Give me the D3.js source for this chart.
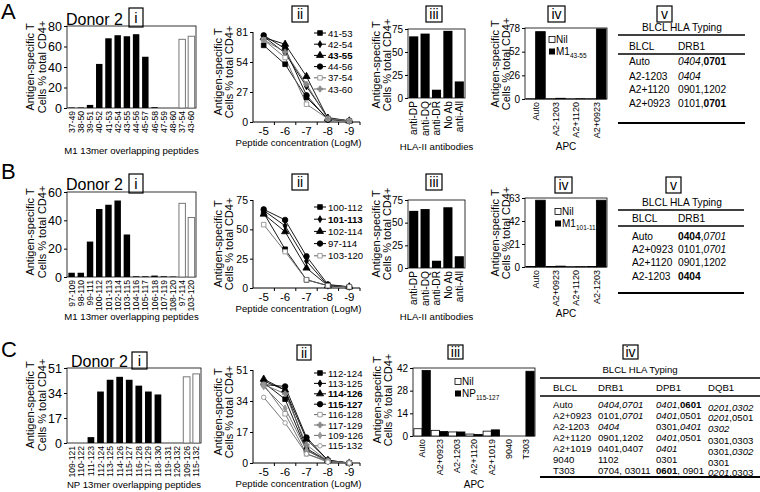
<!DOCTYPE html>
<html><head><meta charset="utf-8">
<script src="https://cdn.jsdelivr.net/npm/d3@7"></script>
<style>
body{margin:0;background:#fff}
svg{font-family:"Liberation Sans",Arial,sans-serif}
</style></head><body>
<svg id="c" width="760" height="492"></svg>
<script>
// ---------------- DATA ----------------
// Row A
const aPeptides = ["37-49","38-50","39-51","40-52","41-53","42-54","43-55","44-56","45-57","46-58","47-59","48-60","37-54","43-60"];
const aResponse = [0.5,0.5,3,43,68,71,70,72,50,0.8,0,0,67,70];
const aLongPeptides = ["37-54","43-60"];
const concentrations = [-5,-6,-7,-8,-9];
const aTitrationNames = ["41-53","42-54","43-55","44-56","37-54","43-60"];
const aT41_53 = [69,52,22,3,1];
const aT42_54 = [77,62,32,4,1];
const aT43_55 = [76,70,41,3,1];
const aT44_56 = [78,66,24,2,1];
const aT37_54 = [74,58,16,3,1];
const aT43_60 = [74,63,34,3,1];
const antibodies = ["anti-DP","anti-DQ","anti-DR","No Ab","anti-All"];
const aBlocking = [67,70,9,73,18];
const aAPC = ["Auto","A2-1203","A2+1120","A2+0923"];
const aNil = [0.3,0.3,0.2,0.3];
const aM1 = [74,0.8,0.3,77];
const aTableCols = ["BLCL","DRB1"];
const aTableRows = [["Auto","_0404_,*0701*"],["A2-1203","_0404_"],["A2+1120","0901,1202"],["A2+0923","0101,*0701*"]];

// Row B
const bPeptides = ["97-109","98-110","99-111","100-112","101-113","102-114","103-115","104-116","105-117","106-118","107-119","108-120","97-114","103-120"];
const bResponse = [3,3,25,48,51,54,30,0.5,0.5,1,0.5,0.3,52,42];
const bLongPeptides = ["97-114","103-120"];
const bTitrationNames = ["100-112","101-113","102-114","97-114","103-120"];
const bT100_112 = [64,33,7,2,1];
const bT101_113 = [66,53,23,2,1];
const bT102_114 = [63,48,17,2,1];
const bT97_114 = [67,58,27,3,1];
const bT103_120 = [54,31,7,2,1];
const bBlocking = [63,65,8,67,13];
const bAPC = ["Auto","A2+0923","A2+1120","A2-1203"];
const bNil = [0.5,0.5,0.3,0.5];
const bM1 = [61,0.8,0.3,61];
const bTableRows = [["Auto","*0404*,_0701_"],["A2+0923","0101,_0701_"],["A2+1120","0901,1202"],["A2-1203","*0404*"]];

// Row C
const cPeptides = ["109-121","110-122","111-123","112-124","113-125","114-126","115-127","116-128","117-129","118-130","119-131","120-132","109-126","115-132"];
const cResponse = [0,0,4,35,43,45,43,39,35,33,0,0,45,47];
const cLongPeptides = ["109-126","115-132"];
const cTitrationNames = ["112-124","113-125","114-126","115-127","116-128","117-129","109-126","115-132"];
const cT112_124 = [44,35,7,1,0];
const cT113_125 = [45,40,8,1,0];
const cT114_126 = [46,40,13,1.5,0];
const cT115_127 = [43,42,14,1.5,0];
const cT116_128 = [43,27,5,1,0];
const cT117_129 = [43,38,10,1,0];
const cT109_126 = [42,30,7,1,0];
const cT115_132 = [36,22,5,0.5,0];
const cAPC = ["Auto","A2+0923","A2-1203","A2+1120","A2+1019","9040","T303"];
const cNil = [4.5,3.5,2.5,1.2,3,0,0];
const cNP = [40.5,2.8,2.5,1,3.8,0,40];
const cTableCols = ["BLCL","DRB1","DPB1","DQB1"];
const cTableRows = [
  ["Auto","_0404,0701_","_0401_,*0601*","_0201,0302_"],
  ["A2+0923","0101,_0701_","_0401_,0501","_0201_,0501"],
  ["A2-1203","_0404_","0301,_0401_","_0302_"],
  ["A2+1120","0901,1202","_0401_,0501","0301,0303"],
  ["A2+1019","0401,0407","_0401_","0301,_0302_"],
  ["9040","1102","0301","0301"],
  ["T303","0704, 03011","*0601*, 0901","_0201_,0303"]
];

// ---------------- DRAWING ----------------
const svg = d3.select("#c");
const FONT = "Liberation Sans, Arial, sans-serif";

function txt(x, y, s, size, opts = {}) {
  const t = svg.append("text").attr("x", x).attr("y", y).attr("font-size", size).text(s);
  if (opts.anchor) t.attr("text-anchor", opts.anchor);
  if (opts.weight) t.attr("font-weight", opts.weight);
  return t;
}
function rich(x, y, s, size, anchor) {
  const t = svg.append("text").attr("x", x).attr("y", y).attr("font-size", size);
  if (anchor) t.attr("text-anchor", anchor);
  const re = /(\*[^*]+\*|_[^_]+_|[^*_]+)/g;
  (s.match(re) || []).forEach(seg => {
    const sp = t.append("tspan");
    if (seg[0] === "*") sp.attr("font-weight", "bold").text(seg.slice(1, -1));
    else if (seg[0] === "_") sp.attr("font-style", "italic").text(seg.slice(1, -1));
    else sp.text(seg);
  });
  return t;
}
function boxLabel(x, y, w, h, s, size = 14) {
  svg.append("rect").attr("x", x).attr("y", y).attr("width", w).attr("height", h)
    .attr("fill", "#fff").attr("stroke", "#000").attr("stroke-width", 1.2);
  txt(x + w / 2, y + h / 2 + size * 0.36, s, size, {anchor: "middle"});
}
function yTitle(xb1, xb2, cy, size = 11) {
  [["Antigen-specific T", xb1], ["Cells % total CD4+", xb2]].forEach(([s, x]) => {
    svg.append("text").attr("transform", `translate(${x},${cy}) rotate(-90)`)
      .attr("text-anchor", "middle").attr("font-size", size).text(s);
  });
}
function yAxis(y, x0, ticks, size) {
  const g = svg.append("g").attr("transform", `translate(${x0},0)`)
    .call(d3.axisLeft(y).tickValues(ticks).tickSize(3).tickPadding(2).tickSizeOuter(0));
  g.select(".domain").remove();
  g.selectAll("line").attr("stroke", "#000");
  g.selectAll("text").attr("font-size", size).attr("font-family", FONT).attr("fill", "#000");
  return g;
}
function rotLabels(cats, xc, yTop, size) {
  cats.forEach(c => {
    svg.append("text").attr("transform", `translate(${xc(c) + size * 0.36},${yTop}) rotate(-90)`)
      .attr("text-anchor", "end").attr("font-size", size).text(c);
  });
}

function peptideBars(p) {
  const x = d3.scaleBand().domain(p.cats).range([p.x0, p.x1]).paddingInner(0.3).paddingOuter(0.15);
  const y = d3.scaleLinear().domain([0, p.max]).range([p.y1, p.y0]);
  svg.append("rect").attr("x", p.x0).attr("y", p.y0).attr("width", p.x1 - p.x0).attr("height", p.y1 - p.y0)
    .attr("fill", "none").attr("stroke", "#000").attr("stroke-width", 0.8);
  svg.append("g").selectAll("rect").data(p.cats).join("rect")
    .attr("x", d => x(d)).attr("width", x.bandwidth())
    .attr("y", (d, i) => y(p.vals[i])).attr("height", (d, i) => y(0) - y(p.vals[i]))
    .attr("fill", d => p.long.includes(d) ? "#fff" : "#000")
    .attr("stroke", d => p.long.includes(d) ? "#777" : "none").attr("stroke-width", 1);
  yAxis(y, p.x0, d3.range(0, p.max + 0.01, p.step), p.tick);
  rotLabels(p.cats, d => x(d) + x.bandwidth() / 2, p.y1 + 3, 8.6);
  txt((p.x0 + p.x1) / 2, p.titleY, p.title, 9.6, {anchor: "middle"});
}

const markerDefs = {
  square: {type: d3.symbolSquare, size: 22, fill: "#000", stroke: "#000"},
  diamond: {type: d3.symbolDiamond, size: 14, fill: "#000", stroke: "#000"},
  triangle: {type: d3.symbolTriangle, size: 22, fill: "#000", stroke: "#000"},
  circle: {type: d3.symbolCircle, size: 24, fill: "#000", stroke: "#000"},
  openSquare: {type: d3.symbolSquare, size: 20, fill: "#fff", stroke: "#888"},
  grayCross: {type: d3.symbolCross, size: 16, fill: "#888", stroke: "#888"},
  grayDiamond: {type: d3.symbolDiamond, size: 14, fill: "#999", stroke: "#999"},
  openCircle: {type: d3.symbolCircle, size: 16, fill: "#fff", stroke: "#888"}
};
function marker(g, kind, cx, cy) {
  const m = markerDefs[kind];
  g.append("path").attr("d", d3.symbol().type(m.type).size(m.size)())
    .attr("transform", `translate(${cx},${cy})`).attr("fill", m.fill).attr("stroke", m.stroke).attr("stroke-width", 0.8);
}

function titration(p) {
  const x = d3.scaleBand().domain(concentrations).range([p.x0, p.x1]);
  const xc = d => x(d) + x.bandwidth() / 2;
  const y = d3.scaleLinear().domain([0, p.max]).range([p.y1, p.y0]);
  svg.append("line").attr("x1", p.x0).attr("x2", p.x0).attr("y1", p.y0).attr("y2", p.y1).attr("stroke", "#000");
  svg.append("line").attr("x1", p.x0).attr("x2", p.x1).attr("y1", p.y1).attr("y2", p.y1).attr("stroke", "#000");
  yAxis(y, p.x0, d3.range(0, p.max + 0.01, p.max / 3), 10.5);
  concentrations.forEach(c => {
    svg.append("line").attr("x1", x(c) + x.bandwidth()).attr("x2", x(c) + x.bandwidth()).attr("y1", p.y1).attr("y2", p.y1 + 3).attr("stroke", "#000");
    txt(xc(c), p.y1 + 13, String(c), 11.5, {anchor: "middle"});
  });
  txt((p.x0 + p.x1) / 2 - 8, p.y1 + 24, "Peptide concentration (LogM)", 9.6, {anchor: "middle"});
  const line = d3.line().x((d, i) => xc(concentrations[i])).y(d => y(d));
  const g = svg.append("g");
  p.series.forEach(s => {
    g.append("path").attr("d", line(s.vals)).attr("fill", "none")
      .attr("stroke", s.gray ? "#666" : "#000").attr("stroke-width", 0.9);
  });
  p.series.forEach(s => s.vals.forEach((v, i) => marker(g, s.marker, xc(concentrations[i]), y(v))));
  p.series.forEach((s, i) => {
    const ly = p.legY + i * p.legDy;
    g.append("line").attr("x1", p.legX - 6).attr("x2", p.legX + 6).attr("y1", ly).attr("y2", ly)
      .attr("stroke", s.gray ? "#666" : "#000");
    marker(g, s.marker, p.legX, ly);
    txt(p.legX + 8, ly + 3.5, s.name, 9.6, {weight: s.bold ? "bold" : null});
  });
}

function simpleBars(p) {
  const x = d3.scaleBand().domain(p.cats).range([p.x0, p.x1]).paddingInner(0.2).paddingOuter(0.1);
  const y = d3.scaleLinear().domain([0, p.max]).range([p.y1, p.y0]);
  svg.append("rect").attr("x", p.x0).attr("y", p.y0).attr("width", p.x1 - p.x0).attr("height", p.y1 - p.y0)
    .attr("fill", "none").attr("stroke", "#000").attr("stroke-width", 0.8);
  svg.append("g").selectAll("rect").data(p.cats).join("rect")
    .attr("x", d => x(d)).attr("width", x.bandwidth())
    .attr("y", (d, i) => y(p.vals[i])).attr("height", (d, i) => y(0) - y(p.vals[i])).attr("fill", "#000");
  yAxis(y, p.x0, d3.range(0, p.max + 0.01, p.max / 3), 10);
  rotLabels(p.cats, d => x(d) + x.bandwidth() / 2, p.y1 + 3, 10.2);
  txt((p.x0 + p.x1) / 2, p.titleY, "HLA-II antibodies", 9.6, {anchor: "middle"});
}

function apcBars(p) {
  const x = d3.scaleBand().domain(p.cats).range([p.x0, p.x1]).paddingInner(0.05).paddingOuter(0.05);
  const xs = d3.scaleBand().domain(["nil", "pep"]).range([0, x.bandwidth()]);
  const y = d3.scaleLinear().domain([0, p.max]).range([p.y1, p.y0]);
  svg.append("rect").attr("x", p.x0).attr("y", p.y0).attr("width", p.x1 - p.x0).attr("height", p.y1 - p.y0)
    .attr("fill", "none").attr("stroke", "#000").attr("stroke-width", 0.8);
  const g = svg.append("g");
  p.cats.forEach((c, i) => {
    [["nil", p.nil[i], "#fff"], ["pep", p.pep[i], "#000"]].forEach(([k, v, f]) => {
      g.append("rect").attr("x", x(c) + xs(k)).attr("width", xs.bandwidth())
        .attr("y", y(v)).attr("height", y(0) - y(v)).attr("fill", f).attr("stroke", "#000").attr("stroke-width", 0.8);
    });
  });
  yAxis(y, p.x0, d3.range(0, p.max + 0.01, p.max / 3), 10);
  rotLabels(p.cats, d => x(d) + x.bandwidth() / 2, p.y1 + 3, 9);
  txt((p.x0 + p.x1) / 2, p.titleY, "APC", 10, {anchor: "middle"});
  g.append("rect").attr("x", p.legX).attr("y", p.legY - 6.5).attr("width", 6).attr("height", 6).attr("fill", "#fff").attr("stroke", "#000").attr("stroke-width", 0.8);
  txt(p.legX + 7, p.legY, "Nil", 10);
  g.append("rect").attr("x", p.legX).attr("y", p.legY + 5.5).attr("width", 6).attr("height", 6).attr("fill", "#000");
  const t = txt(p.legX + 7, p.legY + 12, p.pepName, 10);
  t.append("tspan").attr("font-size", 6.5).attr("dy", 3).text(p.pepSub);
}

function table(p) {
  txt(p.titleX, p.titleY, "BLCL HLA Typing", p.size, {anchor: "middle"});
  svg.append("line").attr("x1", p.x0).attr("x2", p.x1).attr("y1", p.line1).attr("y2", p.line1).attr("stroke", "#000").attr("stroke-width", 1.6);
  p.cols.forEach((c, i) => txt(p.colX[i], p.headY, c, p.size));
  svg.append("line").attr("x1", p.x0).attr("x2", p.x1).attr("y1", p.line2).attr("y2", p.line2).attr("stroke", "#000").attr("stroke-width", 1.4);
  p.rows.forEach((r, j) => r.forEach((cell, i) => rich(p.colX[i], p.rowY[j] + (p.colDy ? p.colDy[i] : 0), cell, p.size)));
  svg.append("line").attr("x1", p.x0).attr("x2", p.x1).attr("y1", p.line3).attr("y2", p.line3).attr("stroke", "#000").attr("stroke-width", 1.8);
}

// ---------- Row A ----------
txt(1, 19, "A", 22);
txt(66, 25, "Donor 2", 16);
boxLabel(129, 8, 14, 19, "i", 15);
yTitle(34, 46, 67);
peptideBars({x0: 67, x1: 196, y0: 26, y1: 108, max: 80, step: 20, tick: 12.5, cats: aPeptides, vals: aResponse, long: aLongPeptides,
  title: "M1 13mer overlapping peptides", titleY: 154});

boxLabel(292, 6, 16, 16, "ii");
yTitle(222, 233, 72);
titration({x0: 253, x1: 360, y0: 32, y1: 122, max: 81, legX: 320, legY: 33, legDy: 11.2,
  series: [
    {name: aTitrationNames[0], vals: aT41_53, marker: "square"},
    {name: aTitrationNames[1], vals: aT42_54, marker: "diamond"},
    {name: aTitrationNames[2], vals: aT43_55, marker: "triangle", bold: true},
    {name: aTitrationNames[3], vals: aT44_56, marker: "circle"},
    {name: aTitrationNames[4], vals: aT37_54, marker: "openSquare", gray: true},
    {name: aTitrationNames[5], vals: aT43_60, marker: "grayCross", gray: true}
  ]});

boxLabel(426, 6, 16, 16, "iii");
yTitle(380, 391, 65);
simpleBars({x0: 408, x1: 465, y0: 29, y1: 98, max: 75, cats: antibodies, vals: aBlocking, titleY: 150});

boxLabel(548, 6, 17, 16, "iv");
yTitle(499, 510, 64);
apcBars({x0: 525, x1: 607, y0: 28, y1: 99, max: 78, cats: aAPC, nil: aNil, pep: aM1, titleY: 150,
  legX: 549, legY: 43, pepName: "M1", pepSub: "43-55"});

boxLabel(657, 6, 15, 16, "v");
table({titleX: 682, titleY: 31, x0: 618, x1: 745, line1: 35, line2: 54, line3: 123, size: 10.2,
  cols: aTableCols, colX: [629, 678], headY: 50, rows: aTableRows, rowY: [65, 80, 93, 107]});

// ---------- Row B ----------
txt(1, 179, "B", 22);
txt(66, 190, "Donor 2", 16);
boxLabel(129, 174, 14, 19, "i", 15);
yTitle(34, 46, 232);
peptideBars({x0: 67, x1: 196, y0: 192, y1: 277, max: 60, step: 20, tick: 12.5, cats: bPeptides, vals: bResponse, long: bLongPeptides,
  title: "M1 13mer overlapping peptides", titleY: 320});

boxLabel(292, 174, 16, 16, "ii");
yTitle(222, 233, 244);
titration({x0: 253, x1: 360, y0: 200, y1: 288, max: 75, legX: 320, legY: 207, legDy: 12.2,
  series: [
    {name: bTitrationNames[0], vals: bT100_112, marker: "square"},
    {name: bTitrationNames[1], vals: bT101_113, marker: "diamond", bold: true},
    {name: bTitrationNames[2], vals: bT102_114, marker: "triangle"},
    {name: bTitrationNames[3], vals: bT97_114, marker: "circle"},
    {name: bTitrationNames[4], vals: bT103_120, marker: "openSquare", gray: true}
  ]});

boxLabel(426, 174, 16, 16, "iii");
yTitle(380, 391, 234);
simpleBars({x0: 408, x1: 465, y0: 200, y1: 268, max: 75, cats: antibodies, vals: bBlocking, titleY: 320});

boxLabel(555, 177, 17, 16, "iv");
yTitle(499, 510, 233);
apcBars({x0: 525, x1: 607, y0: 198, y1: 267, max: 63, cats: bAPC, nil: bNil, pep: bM1, titleY: 317,
  legX: 555, legY: 215, pepName: "M1", pepSub: "101-113"});

boxLabel(666, 177, 15, 16, "v");
table({titleX: 682, titleY: 206, x0: 618, x1: 744, line1: 210, line2: 226, line3: 293, size: 10.2,
  cols: aTableCols, colX: [632, 678], headY: 222, rows: bTableRows, rowY: [240, 253, 266, 280]});

// ---------- Row C ----------
txt(1, 357, "C", 22);
txt(71, 367, "Donor 2", 16);
boxLabel(132, 352, 15, 17, "i", 15);
yTitle(34, 46, 405);
peptideBars({x0: 67, x1: 201, y0: 368, y1: 443, max: 51, step: 17, tick: 12.5, cats: cPeptides, vals: cResponse, long: cLongPeptides,
  title: "NP 13mer overlapping peptides", titleY: 488});

boxLabel(297, 345, 14, 15, "ii");
yTitle(222, 233, 412);
titration({x0: 253, x1: 360, y0: 370, y1: 463, max: 51, legX: 320, legY: 373, legDy: 10.4,
  series: [
    {name: cTitrationNames[0], vals: cT112_124, marker: "square"},
    {name: cTitrationNames[1], vals: cT113_125, marker: "diamond"},
    {name: cTitrationNames[2], vals: cT114_126, marker: "triangle", bold: true},
    {name: cTitrationNames[3], vals: cT115_127, marker: "circle", bold: true},
    {name: cTitrationNames[4], vals: cT116_128, marker: "openSquare", gray: true},
    {name: cTitrationNames[5], vals: cT117_129, marker: "grayCross", gray: true},
    {name: cTitrationNames[6], vals: cT109_126, marker: "grayDiamond", gray: true},
    {name: cTitrationNames[7], vals: cT115_132, marker: "openCircle", gray: true}
  ]});

boxLabel(448, 345, 15, 14, "iii");
yTitle(381, 392, 400);
apcBars({x0: 413, x1: 535, y0: 368, y1: 436, max: 42, cats: cAPC, nil: cNil, pep: cNP, titleY: 488,
  legX: 455, legY: 385, pepName: "NP", pepSub: "115-127"});

boxLabel(623, 345, 15, 14, "iv");
table({titleX: 640, titleY: 373, x0: 540, x1: 760, line1: 378, line2: 396, line3: 477, size: 9.6,
  cols: cTableCols, colX: [553, 598, 656, 708], headY: 391, rows: cTableRows,
  rowY: [408, 418.5, 429.5, 441, 452, 463, 473.5], colDy: [0, 0, 0, 2.5]});
</script>
</body></html>
